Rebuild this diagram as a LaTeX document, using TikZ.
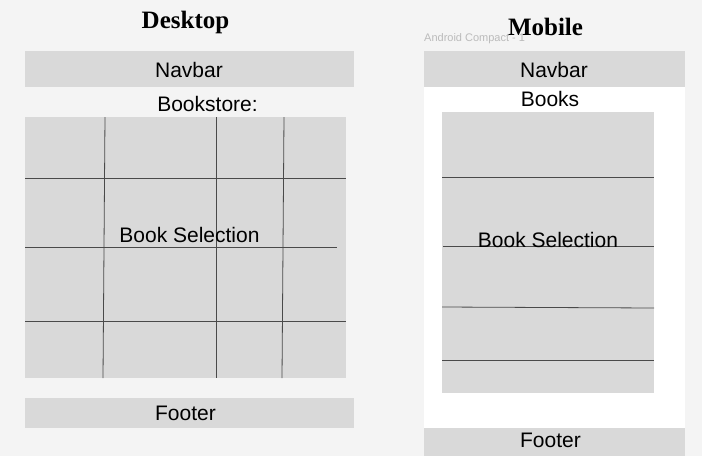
\documentclass[tikz,border=0pt]{standalone}
\usepackage{fontspec}
\setmainfont{Liberation Sans}
\newfontfamily\titlefont{Liberation Serif}
\definecolor{bg}{HTML}{F4F4F4}
\definecolor{boxgray}{HTML}{D9D9D9}
\definecolor{gridline}{HTML}{4A4A4A}
\definecolor{labelgray}{HTML}{BBBBBB}
\begin{document}
\begin{tikzpicture}[x=1pt,y=-1pt,
  panel/.style={fill=boxgray, draw=none, inner sep=0pt, font=\fontsize{21}{23}\selectfont},
  frame/.style={fill=white, draw=none, inner sep=0pt},
  lbl/.style={inner sep=0pt, font=\fontsize{21}{23}\selectfont},
  title/.style={inner sep=0pt, anchor=base, font=\titlefont\bfseries\fontsize{25}{27}\selectfont},
  gl/.style={draw=gridline, line width=0.8pt}]
\fill[bg] (0,0) rectangle (702,456);
\useasboundingbox (0,0) rectangle (702,456);
% titles
\node[title] (dtitle) at (185.5,28) {Desktop};
\node[inner sep=0pt, anchor=base west, text=labelgray, font=\fontsize{11}{12}\selectfont] (alabel) at (424,41) {Android Compact - 1};
\node[title] (mtitle) at (545.5,35) {Mobile};
% desktop
\node[panel, minimum width=329pt, minimum height=36pt] (dnav) at (189.5,69) {};
\node[lbl] (dnavt) at (189,70) {Navbar};
\node[lbl] (dstore) at (207.5,104) {Bookstore:};
\node[panel, minimum width=321pt, minimum height=261pt] (dgrid) at (185.5,247.5) {};
\draw[gl] (105,117) -- (103,378);
\draw[gl] (216,117) -- (216,378);
\draw[gl] (284,117) -- (282,378);
\draw[gl] (25,178) -- (346,178);
\draw[gl] (25,247) -- (337,247);
\draw[gl] (25,321) -- (346,321);
\node[lbl] (dsel) at (189.5,235) {Book Selection};
\node[panel, minimum width=329pt, minimum height=30pt] (dfoot) at (189.5,413) {};
\node[lbl] (dfoott) at (185.5,413) {Footer};
% mobile
\node[frame, minimum width=261pt, minimum height=341pt] (mframe) at (554.5,257.5) {};
\node[panel, minimum width=261pt, minimum height=36pt] (mnav) at (554.5,69) {};
\node[lbl] (mnavt) at (554,70) {Navbar};
\node[lbl] (mbooks) at (550,99) {Books};
\node[panel, minimum width=212pt, minimum height=281pt] (mgrid) at (548,252.5) {};
\draw[gl] (442,177) -- (654,177);
\draw[gl] (443,246) -- (654,246);
\draw[gl] (442,307) -- (654,308);
\draw[gl] (442,360) -- (654,360);
\node[lbl] (msel) at (548,239.5) {Book Selection};
\node[panel, minimum width=261pt, minimum height=28pt] (mfoot) at (554.5,442) {};
\node[lbl] (mfoott) at (550.5,440.5) {Footer};
\end{tikzpicture}
\end{document}
